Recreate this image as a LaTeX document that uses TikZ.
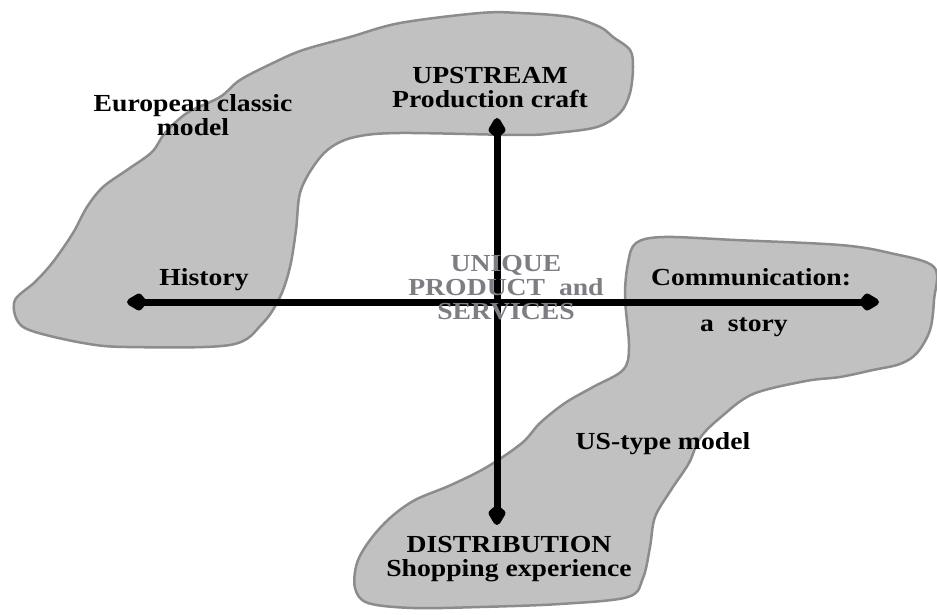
\documentclass[tikz,border=0pt]{standalone}
\usepackage{fontspec}
\setmainfont[FakeStretch=1.13]{Liberation Serif}
\usetikzlibrary{arrows.meta}
\definecolor{blobfill}{RGB}{193,193,193}
\definecolor{blobline}{RGB}{140,140,140}
\definecolor{coretext}{RGB}{125,125,132}
\begin{document}
\begin{tikzpicture}[x=1pt,y=-1pt,
  blob/.style={fill=blobfill,draw=blobline,line width=2.5pt},
  lbl/.style={font=\fontsize{24.5}{24}\selectfont\bfseries,inner sep=0pt,align=center},
  axis/.style={line width=7pt,arrows={Kite[length=24pt,width=19pt,inset=8pt,round]-Kite[length=24pt,width=19pt,inset=8pt,round]}}]
\useasboundingbox (0,0) rectangle (937,615);
% European classic model region
\draw[blob] plot[smooth cycle,tension=0.55] coordinates {
 (15,300) (17,320) (32,331) (83,343) (127,347) (230,345) (262,324) (280,297)
 (290,267) (296,230) (300,193) (313,167) (330,148) (355,137) (400,133)
 (520,135) (555,133) (597,127) (620,113) (630,93) (633,67) (630,50)
 (613,37) (600,27) (570,17) (520,13) (480,13) (400,23) (350,37) (303,50)
 (273,63) (240,80) (220,97) (187,113) (165,133) (152,152) (127,170)
 (103,187) (87,207) (73,233) (53,262) (35,282)};
% US-type model region
\draw[blob] plot[smooth cycle,tension=0.55] coordinates {
 (636,243) (664,237) (735,240) (840,245) (890,253) (934,267) (934,300)
 (930,330) (917,353) (900,364) (873,370) (840,377) (806,381) (753,394)
 (721,417) (700,438) (689,463) (671,490) (655,517) (650,547) (643,578)
 (628,597) (560,604) (480,607) (413,608) (368,603) (355,588) (357,563)
 (370,540) (390,518) (415,500) (451,485) (487,467) (522,443) (540,423)
 (565,403) (593,387) (623,370) (629,347) (625,297) (628,263)};
% axes
\coordinate (L) at (127,302);
\coordinate (R) at (879,302);
\coordinate (T) at (497,118);
\coordinate (B) at (497,525);
\draw[axis] (L) -- (R);
\draw[axis] (T) -- (B);
% labels
\node[lbl] (up) at (490,88) {UPSTREAM\\Production craft};
\node[lbl] (eu) at (193,115) {European classic\\model};
\node[lbl,anchor=base] (hist) at (204,285) {History};
\node[lbl,text=coretext] (core) at (506,288) {UNIQUE\\PRODUCT\ \ and\\SERVICES};
\node[lbl,anchor=base] (comm) at (751,285) {Communication:};
\node[lbl,anchor=base] (story) at (744,331) {a\ \ story};
\node[lbl,anchor=base] (us) at (663,449) {US-type model};
\node[lbl] (dist) at (509,559) {DISTRIBUTION\\Shopping experience};
\end{tikzpicture}
\end{document}
